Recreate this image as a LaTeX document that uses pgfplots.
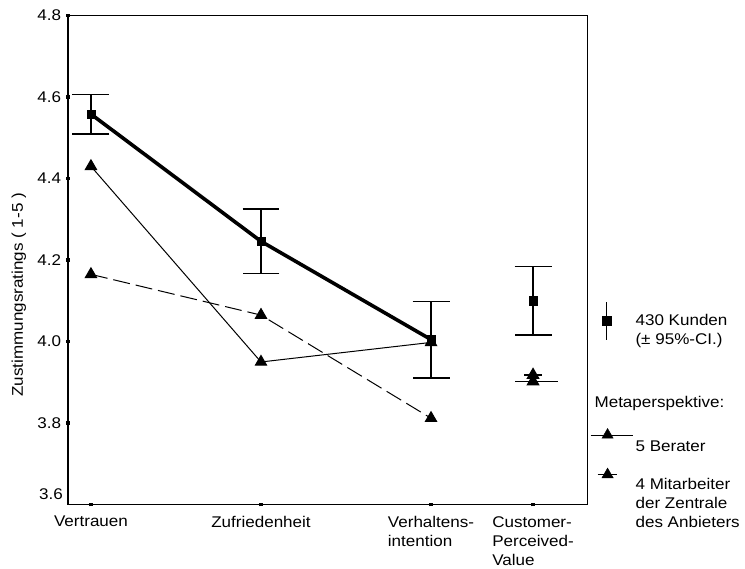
\documentclass[border=0pt]{standalone}
\usepackage{pgfplots}
\pgfplotsset{compat=1.18}
\usepackage{fontspec}
\setmainfont{Liberation Sans}[FakeStretch=1.1]
\newcommand\legfont{\fontsize{15.5bp}{19bp}\selectfont}
\begin{document}
\begin{tikzpicture}
\begin{axis}[
  scale only axis, width=519.5bp, height=489.5bp,
  xmin=0.8647, xmax=3.918, ymin=3.6, ymax=4.8,
  clip=false,
  axis line style={line width=1.2bp, black},
  tick pos=left,
  tick align=center, major tick length=3.5bp,
  tick style={line width=3.5bp, black},
  xtick={1,2,3,3.6},
  xticklabels={Vertrauen, Zufriedenheit, {Verhaltens-\\intention}, {Customer-\\Perceived-\\Value}},
  xticklabel style={anchor=north, align=left, inner sep=0pt, yshift=-9.7bp},
  ytick={3.8,4.0,4.2,4.4,4.6,4.8},
  yticklabels={3.8,4.0,4.2,4.4,4.6,4.8},
  extra y ticks={3.6},
  extra y tick labels={3.6},
  extra y tick style={major tick length=0pt, yticklabel style={yshift=11bp}},
  yticklabel style={anchor=east, inner sep=0pt, xshift=-5bp},
  tick label style={font=\legfont},
  ylabel={Zustimmungsratings ( 1-5 )},
  every axis y label/.style={at={(axis description cs:-0.087,0.429)}, rotate=90, anchor=base, font=\legfont},
  legend style={at={(1.0067,0.3894)}, anchor=north west, draw=none, fill=none,
    inner sep=0pt, outer sep=0pt, row sep=25.4bp, column sep=3bp,
    nodes={inner sep=0pt, anchor=west, align=left, font=\legfont}},
]
% 4 Mitarbeiter (dashed)
\addplot[black, line width=1bp, dash pattern=on 17bp off 6bp, mark=triangle*, mark size=6.5bp, mark options={solid}, forget plot]
  coordinates {(1,4.165) (2,4.065) (3,3.812)};
% 5 Berater (solid thin)
\addplot[black, line width=1bp, mark=triangle*, mark size=6.5bp, mark options={solid}, forget plot]
  coordinates {(1,4.43) (2,3.95) (3,3.998)};
% Customer-Perceived-Value: Berater / Mitarbeiter
\addplot[black, line width=1.2bp, forget plot] coordinates {(3.494,3.902) (3.747,3.902)};
\addplot[black, line width=1.2bp, only marks, mark=triangle*, mark size=6.5bp, forget plot] coordinates {(3.6,3.902)};
\addplot[black, line width=1.2bp, forget plot] coordinates {(3.547,3.918) (3.653,3.918)};
\addplot[black, line width=1.2bp, only marks, mark=triangle*, mark size=6.5bp, forget plot] coordinates {(3.6,3.918)};
% 430 Kunden with 95% CI
\addplot[forget plot, black, line width=3.6bp, mark=square*, mark size=4.2bp, mark options={solid, line width=0.5bp},
  error bars/.cd, y dir=both, y explicit,
  error bar style={line width=1.3bp, solid},
  error mark options={rotate=90, mark size=18.5bp, line width=1.3bp}]
  coordinates {(1,4.558) +- (0,0.049) (2,4.246) +- (0,0.079) (3,4.005) +- (0,0.094)};
\addplot[forget plot, black, only marks, mark=square*, mark size=4.2bp, mark options={solid, line width=0.5bp},
  error bars/.cd, y dir=both, y explicit,
  error bar style={line width=1.3bp, solid},
  error mark options={rotate=90, mark size=18.5bp, line width=1.3bp}]
  coordinates {(3.6,4.10) +- (0,0.084)};
% legend
\addlegendimage{legend image code/.code={
  \path[draw=none, fill=none] (0,0) rectangle (42bp,0.01bp);
  \draw[overlay, black, line width=1.3bp, solid] (16bp,-9.8bp) -- (16bp,28.2bp);
  \fill[overlay, black] (11.8bp,5bp) rectangle (20.2bp,13.4bp);
}}
\addlegendentry{430 Kunden\\(± 95\%-CI.)}
\addlegendimage{legend image code/.code={
  \path[draw=none, fill=none] (0,-8.5bp) rectangle (42bp,35.9bp);
  \node[overlay, anchor=base west, inner sep=0pt, font=\legfont, draw=none, fill=none, text=black] at (4bp,0) {Metaperspektive:};
}}
\addlegendentry{}
\addlegendimage{legend image code/.code={
  \path[draw=none, fill=none] (0,0) rectangle (42bp,0.01bp);
  \draw[overlay, black, line width=0.9bp, solid] (0,12.1bp) -- (42bp,12.1bp);
  \fill[overlay, black] (11.37bp,8.85bp) -- (22.63bp,8.85bp) -- (17bp,18.6bp) -- cycle;
}}
\addlegendentry{5 Berater}
\addlegendimage{legend image code/.code={
  \path[draw=none, fill=none] (0,0) rectangle (42bp,0.01bp);
  \draw[overlay, black, line width=1.2bp, solid] (7bp,29.35bp) -- (26bp,29.35bp);
  \fill[overlay, black] (11.37bp,26.1bp) -- (22.63bp,26.1bp) -- (17bp,35.85bp) -- cycle;
}}
\addlegendentry{4 Mitarbeiter\\der Zentrale\\des Anbieters}
% canvas frame
\path (rel axis cs:0,0) ++(-68bp,-64bp) coordinate (bbsw);
\path (rel axis cs:1,1) ++(158bp,15.5bp) coordinate (bbne);
\path[draw=none] (bbsw) rectangle (bbne);
\end{axis}
\end{tikzpicture}
\end{document}
